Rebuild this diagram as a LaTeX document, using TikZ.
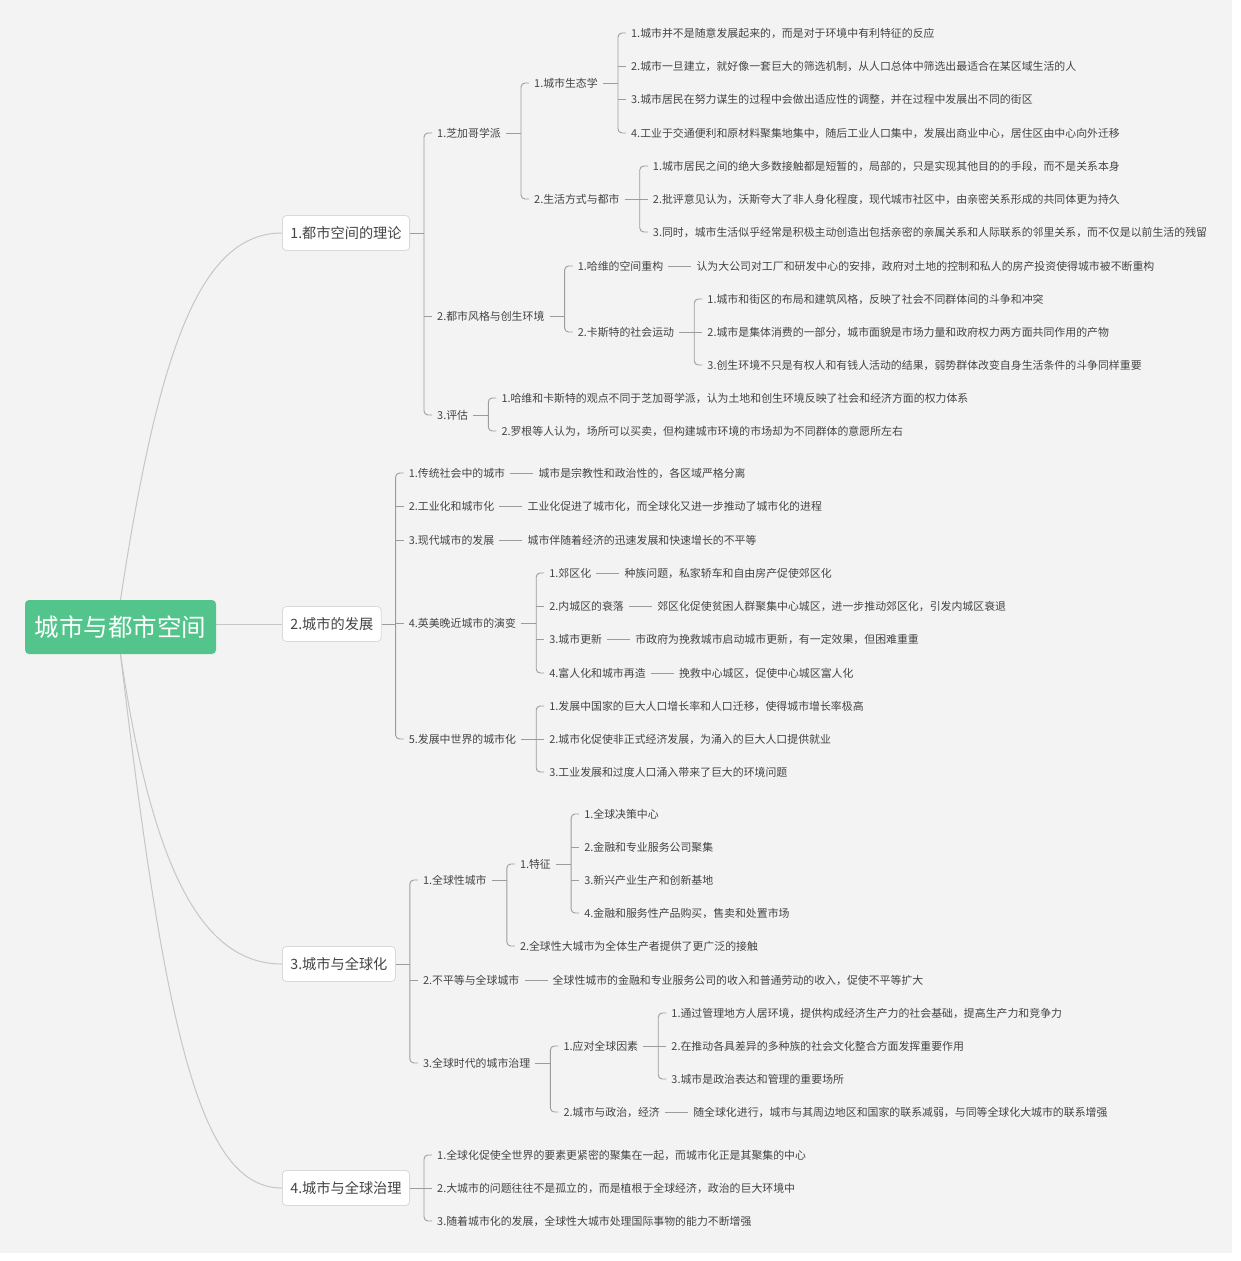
\documentclass[tikz,border=0pt]{standalone}
\usepackage{fontspec}
\setmainfont{Noto Sans CJK SC}
\usetikzlibrary{positioning}
\definecolor{bggray}{HTML}{F3F3F3}
\definecolor{linegray}{HTML}{9C9C9C}
\definecolor{curvegray}{HTML}{C6C6C6}
\definecolor{boxgray}{HTML}{D9D9D9}
\definecolor{textgray}{HTML}{444444}
\definecolor{rootgreen}{HTML}{52C48C}

\begin{document}
\begin{tikzpicture}[
		x=1pt, y=-1pt,
		node distance=23pt,
		rootbox/.style={fill=rootgreen, text=white, rounded corners=4pt, minimum width=191pt, minimum height=54pt, font=\fontsize{24.5}{29}\selectfont},
		topicbox/.style={draw=boxgray, line width=0.8pt, fill=white, rounded corners=4pt, minimum height=35pt, inner xsep=8pt, anchor=west, text=textgray, font=\fontsize{14.2}{17}\selectfont},
		note/.style={inner xsep=5pt, inner ysep=2pt, text=textgray, font=\fontsize{10.9}{13}\selectfont},
		link/.style={draw=linegray, line width=0.9pt},
		branch/.style={link, rounded corners=4pt},
		bough/.style={draw=curvegray, line width=1pt},
	]
		\useasboundingbox (0,0) rectangle (1240,1261);
		\fill[bggray] (0,0) rectangle (1232,1253);

		\node[rootbox] (city) at (120.5,627) {城市与都市空间};
		\node[topicbox] (theory) at (282,233) {1.都市空间的理论};
		\node[topicbox] (growth) at (282,624) {2.城市的发展};
		\node[topicbox] (global) at (282,964) {3.城市与全球化};
		\node[topicbox] (govern) at (282,1188) {4.城市与全球治理};

		\draw[bough] (city.north) .. controls +(38,-250) and +(-82,0) .. (theory.west);
		\draw[bough] (city.east |- growth.west) -- (growth.west);
		\draw[bough] (city.south) .. controls +(31,210) and +(-82,0) .. (global.west);
		\draw[bough] (city.south) .. controls +(45,380) and +(-82,0) .. (govern.west);

		% 1. theory
		\node[note, right=22pt of theory, yshift=100pt] (chicago) {1.芝加哥学派};
		\node[note, right=22pt of theory, yshift=-83pt] (style) {2.都市风格与创生环境};
		\node[note, right=22pt of theory, yshift=-182pt] (review) {3.评估};

		\node[note, right=of chicago, yshift=50pt] (ecology) {1.城市生态学};
		\node[note, right=of chicago, yshift=-66pt] (life) {2.生活方式与都市};

		\node[note, right=of ecology, yshift=50pt] (eco1) {1.城市并不是随意发展起来的，而是对于环境中有利特征的反应};
		\node[note, right=of ecology, yshift=17pt] (eco2) {2.城市一旦建立，就好像一套巨大的筛选机制，从人口总体中筛选出最适合在某区域生活的人};
		\node[note, right=of ecology, yshift=-16pt] (eco3) {3.城市居民在努力谋生的过程中会做出适应性的调整，并在过程中发展出不同的街区};
		\node[note, right=of ecology, yshift=-50pt] (eco4) {4.工业于交通便利和原材料聚集地集中，随后工业人口集中，发展出商业中心，居住区由中心向外迁移};

		\node[note, right=of life, yshift=33pt] (life1) {1.城市居民之间的绝大多数接触都是短暂的，局部的，只是实现其他目的的手段，而不是关系本身};
		\node[note, right=of life] (life2) {2.批评意见认为，沃斯夸大了非人身化程度，现代城市社区中，由亲密关系形成的共同体更为持久};
		\node[note, right=of life, yshift=-33pt] (life3) {3.同时，城市生活似乎经常是积极主动创造出包括亲密的亲属关系和人际联系的邻里关系，而不仅是以前生活的残留};

		\node[note, right=of style, yshift=50pt] (harvey) {1.哈维的空间重构};
		\node[note, right=of harvey] (harveyd) {认为大公司对工厂和研发中心的安排，政府对土地的控制和私人的房产投资使得城市被不断重构};
		\node[note, right=of style, yshift=-16pt] (castells) {2.卡斯特的社会运动};
		\node[note, right=of castells, yshift=33pt] (cas1) {1.城市和街区的布局和建筑风格，反映了社会不同群体间的斗争和冲突};
		\node[note, right=of castells] (cas2) {2.城市是集体消费的一部分，城市面貌是市场力量和政府权力两方面共同作用的产物};
		\node[note, right=of castells, yshift=-33pt] (cas3) {3.创生环境不只是有权人和有钱人活动的结果，弱势群体改变自身生活条件的斗争同样重要};

		\node[note, right=of review, yshift=17pt] (rev1) {1.哈维和卡斯特的观点不同于芝加哥学派，认为土地和创生环境反映了社会和经济方面的权力体系};
		\node[note, right=of review, yshift=-16pt] (rev2) {2.罗根等人认为，场所可以买卖，但构建城市环境的市场却为不同群体的意愿所左右};

		\draw[link] (theory.east) -- ([xshift=-8pt]chicago.west |- theory.east);
		\draw[branch] (chicago.west) -| ([xshift=-8pt]review.west) -- (review.west);
		\draw[link] ([xshift=-8pt]style.west) -- (style.west);

		\draw[link] (chicago.east) -- ([xshift=-8pt]ecology.west |- chicago.east);
		\draw[branch] (ecology.west) -| ([xshift=-8pt]life.west) -- (life.west);

		\draw[link] (ecology.east) -- ([xshift=-8pt]eco1.west |- ecology.east);
		\draw[branch] (eco1.west) -| ([xshift=-8pt]eco4.west) -- (eco4.west);
		\draw[link] ([xshift=-8pt]eco2.west) -- (eco2.west);
		\draw[link] ([xshift=-8pt]eco3.west) -- (eco3.west);

		\draw[link] (life.east) -- ([xshift=-8pt]life1.west |- life.east);
		\draw[branch] (life1.west) -| ([xshift=-8pt]life3.west) -- (life3.west);
		\draw[link] ([xshift=-8pt]life2.west) -- (life2.west);

		\draw[link] (style.east) -- ([xshift=-8pt]harvey.west |- style.east);
		\draw[branch] (harvey.west) -| ([xshift=-8pt]castells.west) -- (castells.west);
		\draw[link] (harvey) -- (harveyd);

		\draw[link] (castells.east) -- ([xshift=-8pt]cas1.west |- castells.east);
		\draw[branch] (cas1.west) -| ([xshift=-8pt]cas3.west) -- (cas3.west);
		\draw[link] ([xshift=-8pt]cas2.west) -- (cas2.west);

		\draw[link] (review.east) -- ([xshift=-8pt]rev1.west |- review.east);
		\draw[branch] (rev1.west) -| ([xshift=-8pt]rev2.west) -- (rev2.west);

		% 2. growth
		\node[note, right=22pt of growth, yshift=151pt] (trad) {1.传统社会中的城市};
		\node[note, right=of trad] (tradd) {城市是宗教性和政治性的，各区域严格分离};
		\node[note, right=22pt of growth, yshift=118pt] (indus) {2.工业化和城市化};
		\node[note, right=of indus] (indusd) {工业化促进了城市化，而全球化又进一步推动了城市化的进程};
		\node[note, right=22pt of growth, yshift=84pt] (modern) {3.现代城市的发展};
		\node[note, right=of modern] (modernd) {城市伴随着经济的迅速发展和快速增长的不平等};
		\node[note, right=22pt of growth, yshift=1pt] (evolve) {4.英美晚近城市的演变};
		\node[note, right=22pt of growth, yshift=-115pt] (develop) {5.发展中世界的城市化};

		\node[note, right=of evolve, yshift=50pt] (suburb) {1.郊区化};
		\node[note, right=of suburb] (suburbd) {种族问题，私家轿车和自由房产促使郊区化};
		\node[note, right=of evolve, yshift=17pt] (inner) {2.内城区的衰落};
		\node[note, right=of inner] (innerd) {郊区化促使贫困人群聚集中心城区，进一步推动郊区化，引发内城区衰退};
		\node[note, right=of evolve, yshift=-16pt] (renew) {3.城市更新};
		\node[note, right=of renew] (renewd) {市政府为挽救城市启动城市更新，有一定效果，但困难重重};
		\node[note, right=of evolve, yshift=-50pt] (gentry) {4.富人化和城市再造};
		\node[note, right=of gentry] (gentryd) {挽救中心城区，促使中心城区富人化};

		\node[note, right=of develop, yshift=33pt] (dev1) {1.发展中国家的巨大人口增长率和人口迁移，使得城市增长率极高};
		\node[note, right=of develop] (dev2) {2.城市化促使非正式经济发展，为涌入的巨大人口提供就业};
		\node[note, right=of develop, yshift=-33pt] (dev3) {3.工业发展和过度人口涌入带来了巨大的环境问题};

		\draw[link] (growth.east) -- ([xshift=-8pt]trad.west |- growth.east);
		\draw[branch] (trad.west) -| ([xshift=-8pt]develop.west) -- (develop.west);
		\draw[link] ([xshift=-8pt]indus.west) -- (indus.west);
		\draw[link] ([xshift=-8pt]modern.west) -- (modern.west);
		\draw[link] ([xshift=-8pt]evolve.west) -- (evolve.west);
		\draw[link] (trad) -- (tradd);
		\draw[link] (indus) -- (indusd);
		\draw[link] (modern) -- (modernd);

		\draw[link] (evolve.east) -- ([xshift=-8pt]suburb.west |- evolve.east);
		\draw[branch] (suburb.west) -| ([xshift=-8pt]gentry.west) -- (gentry.west);
		\draw[link] ([xshift=-8pt]inner.west) -- (inner.west);
		\draw[link] ([xshift=-8pt]renew.west) -- (renew.west);
		\draw[link] (suburb) -- (suburbd);
		\draw[link] (inner) -- (innerd);
		\draw[link] (renew) -- (renewd);
		\draw[link] (gentry) -- (gentryd);

		\draw[link] (develop.east) -- ([xshift=-8pt]dev1.west |- develop.east);
		\draw[branch] (dev1.west) -| ([xshift=-8pt]dev3.west) -- (dev3.west);
		\draw[link] ([xshift=-8pt]dev2.west) -- (dev2.west);

		% 3. global
		\node[note, right=22pt of global, yshift=84pt] (gcity) {1.全球性城市};
		\node[note, right=22pt of global, yshift=-16pt] (unequal) {2.不平等与全球城市};
		\node[note, right=of unequal] (unequald) {全球性城市的金融和专业服务公司的收入和普通劳动的收入，促使不平等扩大};
		\node[note, right=22pt of global, yshift=-99pt] (gover) {3.全球时代的城市治理};

		\node[note, right=of gcity, yshift=16pt] (feature) {1.特征};
		\node[note, right=of gcity, yshift=-66pt] (contact) {2.全球性大城市为全体生产者提供了更广泛的接触};
		\node[note, right=of feature, yshift=50pt] (feat1) {1.全球决策中心};
		\node[note, right=of feature, yshift=17pt] (feat2) {2.金融和专业服务公司聚集};
		\node[note, right=of feature, yshift=-16pt] (feat3) {3.新兴产业生产和创新基地};
		\node[note, right=of feature, yshift=-49pt] (feat4) {4.金融和服务性产品购买，售卖和处置市场};

		\node[note, right=of gover, yshift=17pt] (respond) {1.应对全球因素};
		\node[note, right=of gover, yshift=-49pt] (polit) {2.城市与政治，经济};
		\node[note, right=of polit] (politd) {随全球化进行，城市与其周边地区和国家的联系减弱，与同等全球化大城市的联系增强};
		\node[note, right=of respond, yshift=33pt] (resp1) {1.通过管理地方人居环境，提供构成经济生产力的社会基础，提高生产力和竞争力};
		\node[note, right=of respond] (resp2) {2.在推动各具差异的多种族的社会文化整合方面发挥重要作用};
		\node[note, right=of respond, yshift=-33pt] (resp3) {3.城市是政治表达和管理的重要场所};

		\draw[link] (global.east) -- ([xshift=-8pt]gcity.west |- global.east);
		\draw[branch] (gcity.west) -| ([xshift=-8pt]gover.west) -- (gover.west);
		\draw[link] ([xshift=-8pt]unequal.west) -- (unequal.west);
		\draw[link] (unequal) -- (unequald);

		\draw[link] (gcity.east) -- ([xshift=-8pt]feature.west |- gcity.east);
		\draw[branch] (feature.west) -| ([xshift=-8pt]contact.west) -- (contact.west);

		\draw[link] (feature.east) -- ([xshift=-8pt]feat1.west |- feature.east);
		\draw[branch] (feat1.west) -| ([xshift=-8pt]feat4.west) -- (feat4.west);
		\draw[link] ([xshift=-8pt]feat2.west) -- (feat2.west);
		\draw[link] ([xshift=-8pt]feat3.west) -- (feat3.west);

		\draw[link] (gover.east) -- ([xshift=-8pt]respond.west |- gover.east);
		\draw[branch] (respond.west) -| ([xshift=-8pt]polit.west) -- (polit.west);
		\draw[link] (polit) -- (politd);

		\draw[link] (respond.east) -- ([xshift=-8pt]resp1.west |- respond.east);
		\draw[branch] (resp1.west) -| ([xshift=-8pt]resp3.west) -- (resp3.west);
		\draw[link] ([xshift=-8pt]resp2.west) -- (resp2.west);

		% 4. govern
		\node[note, right=22pt of govern, yshift=33pt] (gov1) {1.全球化促使全世界的要素更紧密的聚集在一起，而城市化正是其聚集的中心};
		\node[note, right=22pt of govern] (gov2) {2.大城市的问题往往不是孤立的，而是植根于全球经济，政治的巨大环境中};
		\node[note, right=22pt of govern, yshift=-33pt] (gov3) {3.随着城市化的发展，全球性大城市处理国际事物的能力不断增强};

		\draw[link] (govern.east) -- ([xshift=-8pt]gov1.west |- govern.east);
		\draw[branch] (gov1.west) -| ([xshift=-8pt]gov3.west) -- (gov3.west);
		\draw[link] ([xshift=-8pt]gov2.west) -- (gov2.west);
	\end{tikzpicture}
\end{document}
